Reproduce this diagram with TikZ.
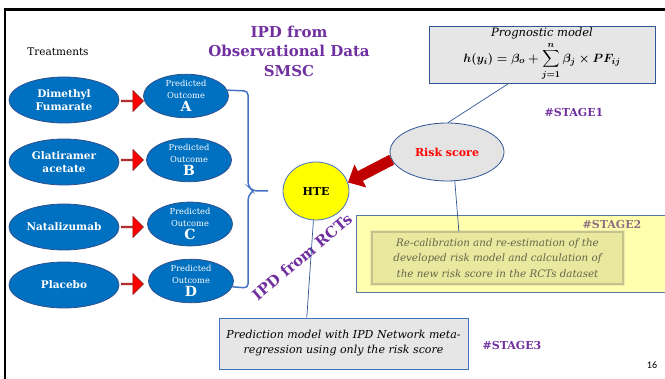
\documentclass[tikz,border=0pt]{standalone}
\usepackage{fontspec}
\setmainfont{DejaVu Serif}
\setsansfont{Carlito}
\usepackage{amsmath}
\usetikzlibrary{shapes.geometric,shapes.arrows,arrows.meta,calc}

\definecolor{tblue}{HTML}{0070C0}
\definecolor{tblueD}{HTML}{2F528F}
\definecolor{lineB}{HTML}{4472C4}
\definecolor{edgeB}{HTML}{2F5597}
\definecolor{ipdP}{HTML}{7030A0}
\definecolor{boxG}{HTML}{E6E6E6}
\definecolor{riskG}{HTML}{E4E4E4}
\definecolor{arrD}{HTML}{8B1A1A}
\definecolor{darkR}{HTML}{C00000}
\definecolor{hteY}{HTML}{FFFF00}
\definecolor{stOut}{HTML}{FFFFAE}
\definecolor{stIn}{HTML}{E8E89E}
\definecolor{stInD}{HTML}{C4C48A}
\definecolor{stText}{HTML}{66664A}
\definecolor{stTag}{HTML}{8E6E80}

\tikzset{
  treat/.style={ellipse, fill=tblue, draw=tblueD, line width=0.8pt,
    minimum width=110pt, minimum height=46pt, inner sep=0pt, align=center,
    text=white, font=\bfseries\fontsize{10.5}{13}\selectfont},
  outc/.style={ellipse, fill=tblue, draw=tblueD, line width=0.8pt,
    minimum width=85pt, minimum height=42pt, inner sep=0pt, align=center,
    text=white, font=\fontsize{8.3}{11.5}\selectfont},
  redarr/.style={single arrow, fill=red, draw=arrD, line width=0.6pt,
    minimum height=22pt, minimum width=21pt, single arrow head extend=4pt,
    inner sep=0pt},
  bracket/.style={draw=lineB, line width=1.5pt, rounded corners=4pt},
  thinline/.style={draw=edgeB, line width=0.7pt},
  stagetag/.style={text=ipdP, font=\bfseries\fontsize{11}{13}\selectfont},
}

\newcommand{\outtext}[1]{Predicted\\Outcome\\[1.5pt]{\bfseries\fontsize{14}{14}\selectfont #1}}

\begin{document}
\begin{tikzpicture}[x=1pt,y=-1pt]
\useasboundingbox (0,0) rectangle (665,379);

% slide frame
\draw[line width=3pt] (4,10) -- (668,10);
\draw[line width=2pt] (5,9) -- (5,382);

% headings
\node[font=\fontsize{10.5}{12}\selectfont] (treatlbl) at (58,52) {Treatments};
\node[text=ipdP, align=center, font=\bfseries\fontsize{15}{19.5}\selectfont] (obs) at (289,51)
  {IPD from\\Observational Data\\SMSC};

% treatments
\node[treat] (t1) at (64,100) {Dimethyl\\Fumarate};
\node[treat] (t2) at (64,162) {Glatiramer\\acetate};
\node[treat] (t3) at (64,227) {Natalizumab};
\node[treat] (t4) at (64,285) {Placebo};

% predicted outcomes
\node[outc] (o1) at (186,96) {\outtext{A}};
\node[outc] (o2) at (189,160) {\outtext{B}};
\node[outc] (o3) at (190,224) {\outtext{C}};
\node[outc] (o4) at (191,281) {\outtext{D}};

% red arrows
\node[redarr] (a1) at (132,101) {};
\node[redarr] (a2) at (132,160) {};
\node[redarr] (a3) at (132,227) {};
\node[redarr] (a4) at (132,284) {};

% brace gathering the outcomes
\coordinate (bt) at (268,191);
\draw[bracket] (o1.8) -- (248,91) -- (248,186) -- (253,191) -- (bt);
\draw[bracket] (253,191) -- (248,196) -- (248,288) -- (o4.-8);

% HTE
\node[ellipse, fill=hteY, draw=lineB, line width=0.8pt, minimum width=66pt,
  minimum height=58pt, font=\bfseries\fontsize{11}{13}\selectfont] (hte) at (316,191) {HTE};

% prognostic model
\node[rectangle, fill=boxG, draw=edgeB, line width=0.8pt, minimum width=226pt,
  minimum height=57pt] (prog) at (542,54.5) {};
\node[font=\itshape\fontsize{11.5}{13}\selectfont] (progT) at (542,33) {Prognostic model};
\node[font=\fontsize{12.5}{14}\selectfont] (progF) at (542,61)
  {$\displaystyle\boldsymbol{h(y_i) = \beta_o + \sum_{j=1}^{n} \beta_j \times PF_{ij}}$};
\node[stagetag] (s1) at (574,112) {\#STAGE1};

% risk score
\node[ellipse, fill=riskG, draw=edgeB, line width=0.8pt, minimum width=114pt,
  minimum height=58pt, text=red, font=\bfseries\fontsize{11}{13}\selectfont] (risk) at (447,152) {Risk score};
\draw[thinline] (prog.221.7) -- (risk.88);

% stage 2
\node[rectangle, fill=stOut, draw=lineB!70!gray, line width=0.8pt, minimum width=312pt,
  minimum height=77pt] (st2) at (512,253.5) {};
\node[text=stTag, font=\bfseries\fontsize{11}{13}\selectfont] (s2) at (612,224) {\#STAGE2};
\node[rectangle, fill=stIn, draw=stInD, line width=1.5pt, minimum width=251pt,
  minimum height=52pt, align=center, text=stText,
  preaction={draw=stInD!70, line width=4pt, opacity=0.5},
  font=\itshape\fontsize{10.3}{15.5}\selectfont] (st2in) at (497.5,258)
  {Re-calibration and re-estimation of the\\developed risk model and calculation of\\the new risk score in the RCTs dataset};
\draw[thinline] (risk.-75) -- ($(st2in.north west)!0.347!(st2in.north east)$);

% risk score feeds HTE
\draw[darkR, line width=11pt, -{Triangle[width=25pt,length=14pt]}] (risk.188) -- (hte.15);

% prediction model
\node[rectangle, fill=boxG, draw=lineB, line width=0.8pt, minimum width=249pt,
  minimum height=51pt, align=center, font=\itshape\fontsize{11}{15}\selectfont] (pred) at (343.5,343.5)
  {Prediction model with IPD Network meta-\\regression using only the risk score};
\node[rotate=40, text=ipdP, font=\bfseries\fontsize{15}{15}\selectfont] (rcts) at (302,257) {IPD from RCTs};
\draw[thinline] (hte.-95) -- ($(pred.north west)!0.353!(pred.north east)$);
\node[stagetag] (s3) at (512,345) {\#STAGE3};

% slide number
\node[font=\sffamily\fontsize{10}{12}\selectfont] (pg) at (652,365) {16};
\end{tikzpicture}
\end{document}
